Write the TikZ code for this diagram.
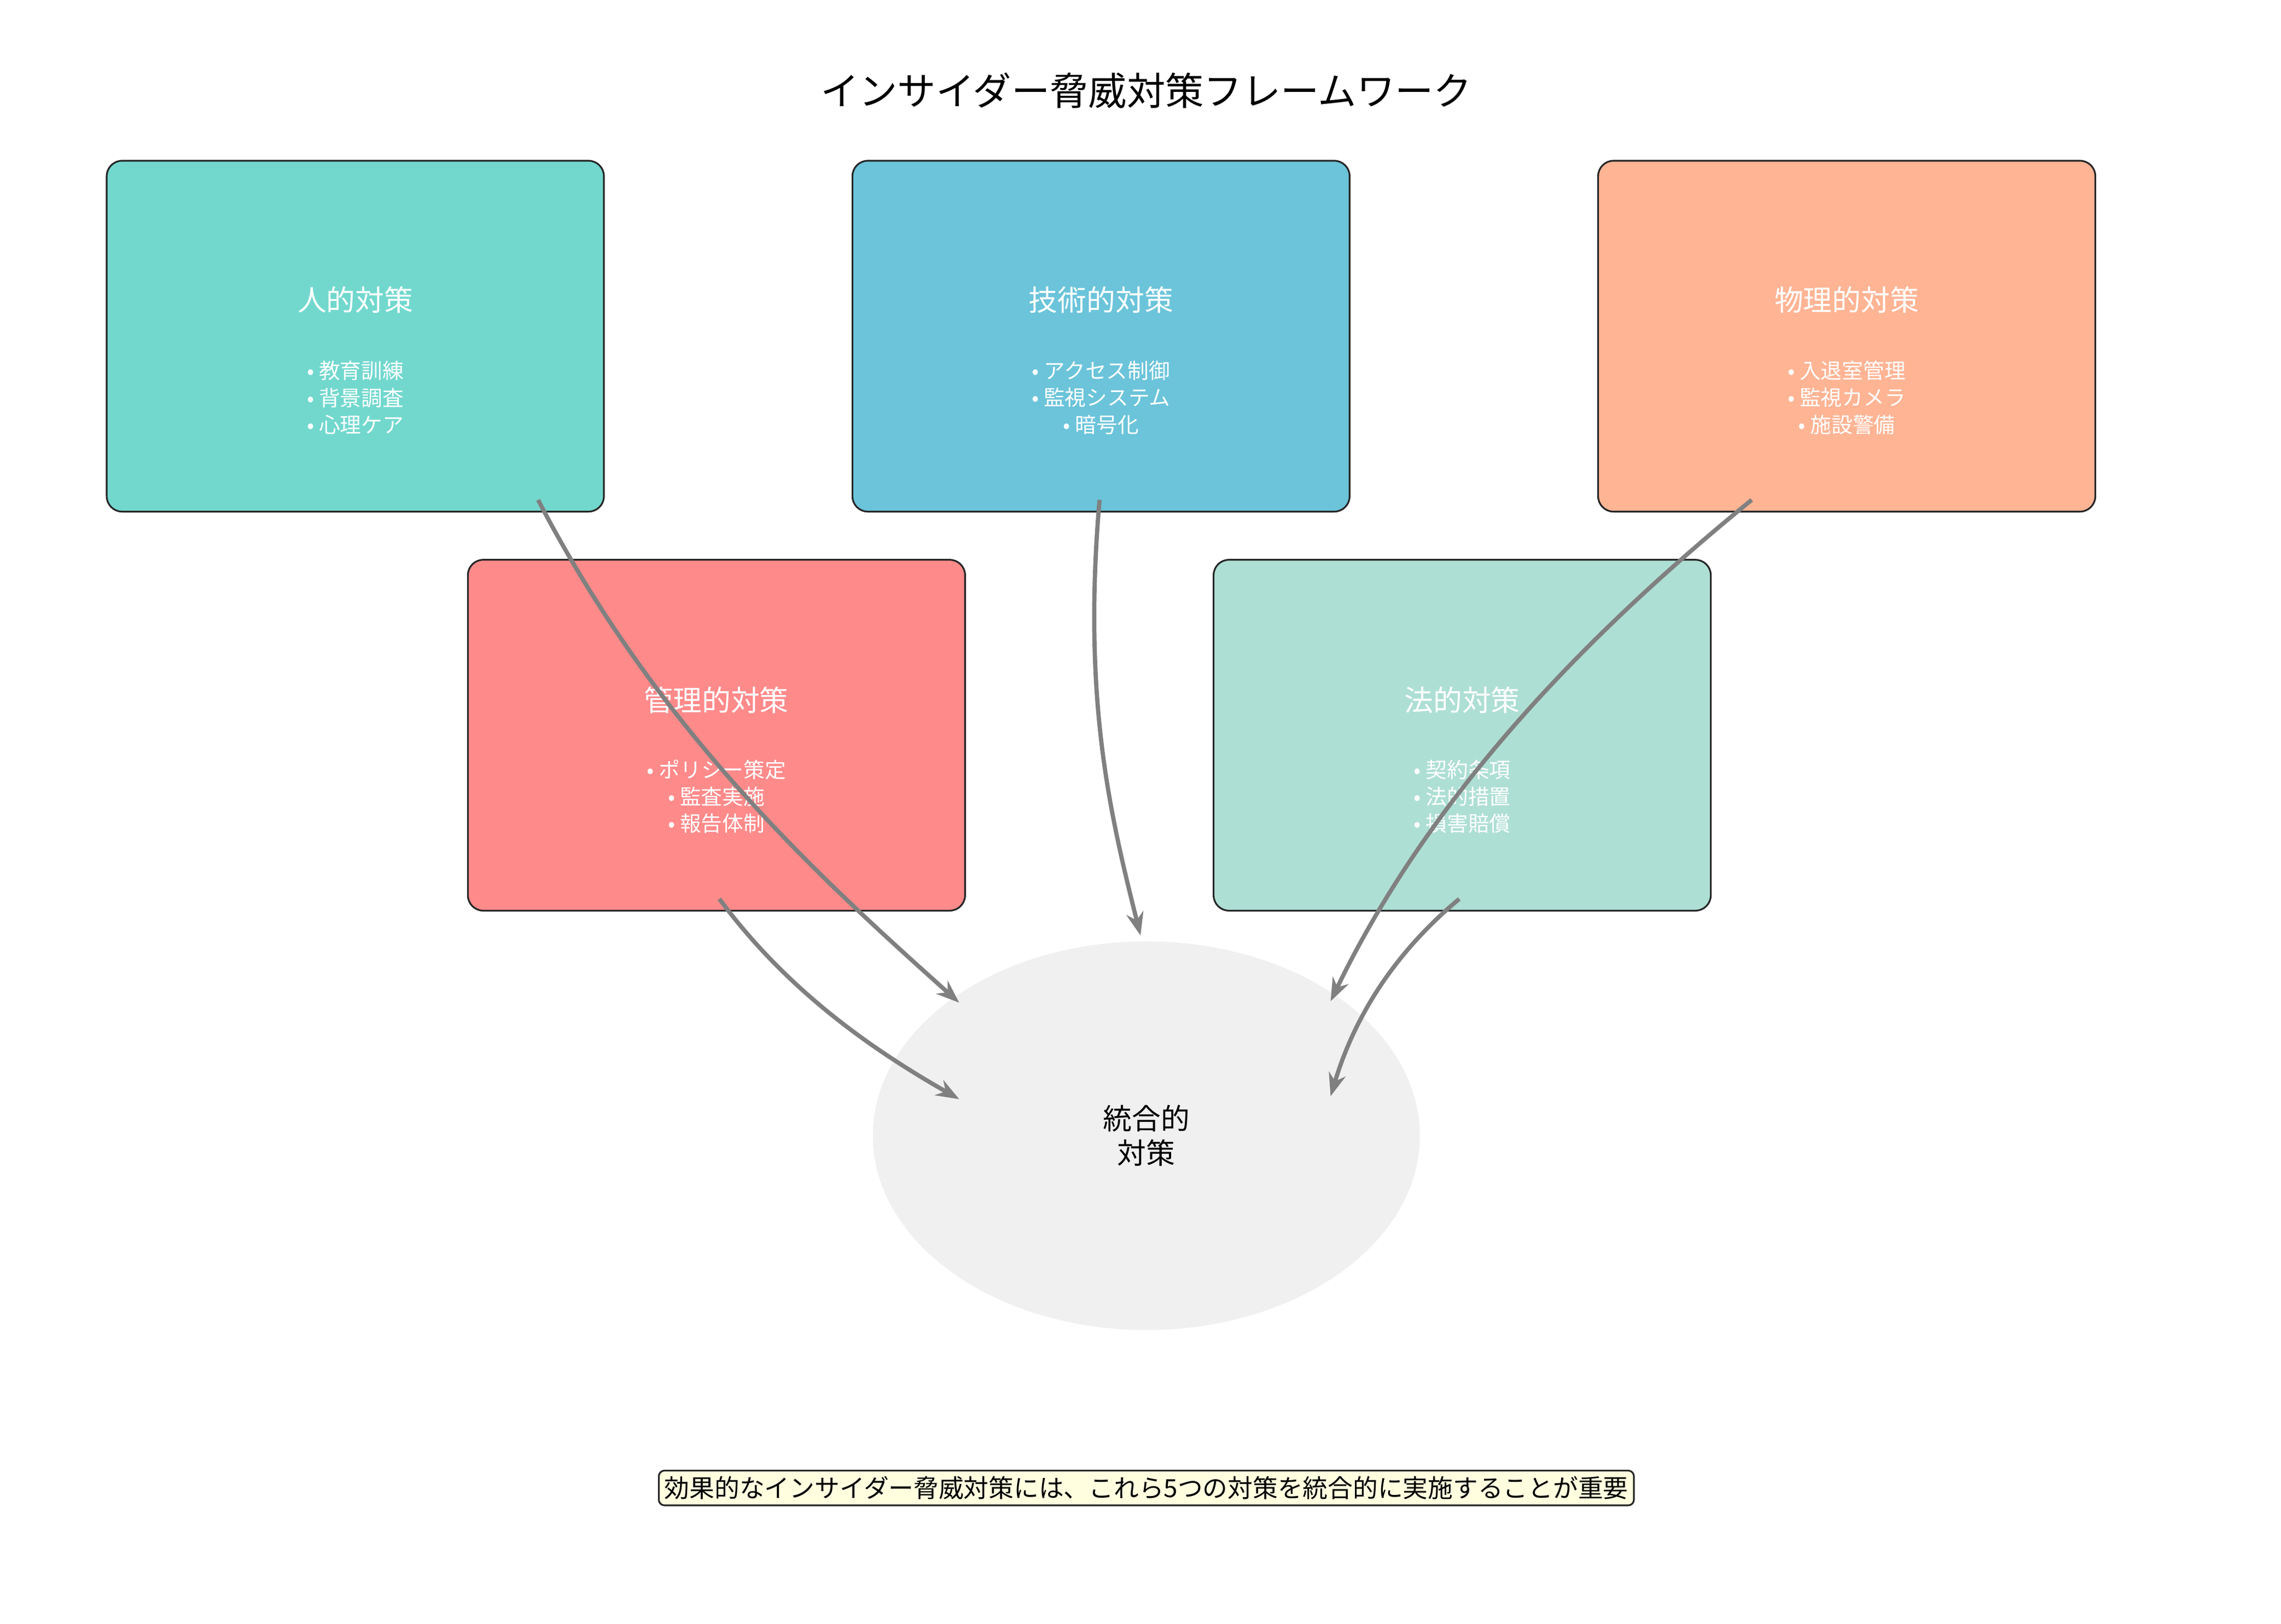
\documentclass[tikz,border=0pt]{standalone}
\usepackage{fontspec}
\setmainfont{Noto Sans CJK JP}
\usetikzlibrary{shapes.geometric, arrows.meta, positioning}
\definecolor{humanc}{HTML}{72D8CE}
\definecolor{techc}{HTML}{6BC4DA}
\definecolor{physc}{HTML}{FFB494}
\definecolor{mgmtc}{HTML}{FF8A8A}
\definecolor{legalc}{HTML}{AEDFD4}
\definecolor{corec}{HTML}{F0F0F0}
\definecolor{notec}{HTML}{FFFFE0}
\tikzset{
  measure/.style={draw=black!85, line width=0.9pt, rounded corners=8pt, minimum width=9.08cm, minimum height=6.41cm},
  boxtitle/.style={text=white, font=\fontsize{15}{18}\selectfont},
  boxitems/.style={text=white, align=center, font=\fontsize{11}{14}\selectfont},
  link/.style={draw=gray, line width=2.2pt, -{Stealth[length=12pt,width=9pt]}}
}
\begin{document}
\begin{tikzpicture}[x=0.0267cm,y=-0.0267cm]
    \useasboundingbox (0,0) rectangle (1560,1111);
    \node (title) at (784,62) {\fontsize{20}{24}\selectfont インサイダー脅威対策フレームワーク};

    % top row
    \node (human) at (243,230) [measure, fill=humanc] {};
    \node (humant) at (243,205) [boxtitle] {人的対策};
    \node (humanl) at (243,272) [boxitems] {• 教育訓練\\• 背景調査\\• 心理ケア};

    \node (tech) at (753,230) [measure, fill=techc] {};
    \node (techt) at (753,205) [boxtitle] {技術的対策};
    \node (techl) at (753,272) [boxitems] {• アクセス制御\\• 監視システム\\• 暗号化};

    \node (phys) at (1263,230) [measure, fill=physc] {};
    \node (physt) at (1263,205) [boxtitle] {物理的対策};
    \node (physl) at (1263,272) [boxitems] {• 入退室管理\\• 監視カメラ\\• 施設警備};

    % second row
    \node (mgmt) at (490,503) [measure, fill=mgmtc] {};
    \node (mgmtt) at (490,479) [boxtitle] {管理的対策};
    \node (mgmtl) at (490,545) [boxitems] {• ポリシー策定\\• 監査実施\\• 報告体制};

    \node (legal) at (1000,503) [measure, fill=legalc] {};
    \node (legalt) at (1000,479) [boxtitle] {法的対策};
    \node (legall) at (1000,545) [boxitems] {• 契約条項\\• 法的措置\\• 損害賠償};

    % center
    \node (core) at (784,777) [ellipse, fill=corec, minimum width=9.99cm, minimum height=7.1cm, align=center, font=\fontsize{15}{18}\selectfont] {統合的\\対策};

    \coordinate (h0) at (368,342);   \coordinate (h1) at (656,686);
    \coordinate (t0) at (752,342);   \coordinate (t1) at (780,640);
    \coordinate (p0) at (1198,342);  \coordinate (p1) at (910,685);
    \coordinate (m0) at (492,615);   \coordinate (m1) at (656,752);
    \coordinate (l0) at (998,615);   \coordinate (l1) at (910,750);
    \draw [link] (h0) .. controls (450,500) and (560,600) .. (h1);
    \draw [link] (t0) .. controls (740,480) and (760,560) .. (t1);
    \draw [link] (p0) .. controls (1090,430) and (980,540) .. (p1);
    \draw [link] (m0) .. controls (540,680) and (600,720) .. (m1);
    \draw [link] (l0) .. controls (950,655) and (925,700) .. (l1);

    \node (note) at (784,1018) [draw=black!85, fill=notec, rounded corners=3pt, line width=0.9pt, inner sep=3pt, font=\fontsize{13}{16}\selectfont] {効果的なインサイダー脅威対策には、これら5つの対策を統合的に実施することが重要};
\end{tikzpicture}
\end{document}
